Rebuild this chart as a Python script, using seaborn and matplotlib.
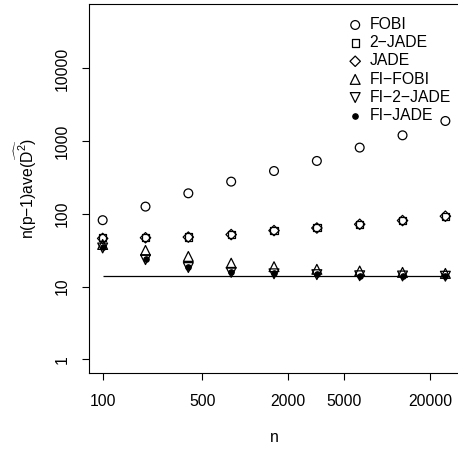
import matplotlib
matplotlib.use("Agg")
import matplotlib.pyplot as plt
import seaborn as sns
import pandas as pd

# taille d'échantillon et valeurs moyennes
n = [100, 200, 400, 800, 1600, 3200, 6400, 12800, 25600]
fobi = [82, 126, 192, 278, 389, 535, 817, 1205, 1897]
jade2 = [47, 47, 48, 52, 59, 65, 72, 82, 93]
jade = [46, 47, 48, 52, 59, 64, 72, 81, 93]
fi_fobi = [38, 31.5, 26, 21, 18.8, 17.3, 16.4, 15.7, 15.2]
fi_jade2 = [34, 23.5, 18.3, 15.7, 15.0, 14.6, 14.1, 14.0, 13.9]
fi_jade = [35, 24.3, 18.6, 15.9, 15.2, 14.8, 14.2, 14.1, 14.0]
borne = 13.8

methodes = ["FOBI", "2\u2212JADE", "JADE", "FI\u2212FOBI", "FI\u22122\u2212JADE", "FI\u2212JADE"]
series = [fobi, jade2, jade, fi_fobi, fi_jade2, fi_jade]
x_ticks = [100, 500, 2000, 5000, 20000]
y_ticks = [1, 10, 100, 1000, 10000]

# style de chaque marqueur (symboles R pch 1, 0, 5, 2, 6, 20)
styles = {
    methodes[0]: dict(marker="o", s=40, facecolor="none"),
    methodes[1]: dict(marker="s", s=28, facecolor="none"),
    methodes[2]: dict(marker="D", s=28, facecolor="none"),
    methodes[3]: dict(marker="^", s=50, facecolor="none"),
    methodes[4]: dict(marker="v", s=50, facecolor="none"),
    methodes[5]: dict(marker="o", s=15, facecolor="black"),
}

data = pd.DataFrame({
    "n": n * len(methodes),
    "val": [v for s in series for v in s],
    "methode": [m for m in methodes for _ in n],
})

sns.set_theme(style="white")
plt.rcParams["font.family"] = ["Liberation Sans", "DejaVu Sans"]
plt.rcParams["mathtext.fontset"] = "custom"
plt.rcParams["mathtext.rm"] = "Liberation Sans"
plt.rcParams["mathtext.it"] = "Liberation Sans:italic"
for cle in ["text.color", "axes.labelcolor", "xtick.color", "ytick.color"]:
    plt.rcParams[cle] = "black"

taille = 11.3

fig = plt.figure(figsize=(4.58, 4.49), dpi=100)
ax = fig.add_axes([89 / 458, 76 / 449, 370 / 458, 369 / 449])

handles = []
for m in methodes:
    st = styles[m]
    sns.scatterplot(data=data[data.methode == m], x="n", y="val", ax=ax,
                    marker=st["marker"], s=st["s"], facecolor=st["facecolor"],
                    edgecolor="black", linewidth=0.9, legend=False)
    handles.append(ax.collections[-1])

ax.hlines(borne, n[0], n[-1], color="black", linewidth=0.9)

ax.set_xscale("log")
ax.set_yscale("log")
ax.set_xlim(10 ** 1.904, 10 ** 4.504)
ax.set_ylim(10 ** -0.188, 10 ** 4.887)
ax.set_xticks(x_ticks)
ax.set_xticklabels([str(t) for t in x_ticks])
ax.set_yticks(y_ticks)
ax.set_yticklabels([str(t) for t in y_ticks], rotation=90, va="center")
ax.minorticks_off()
ax.tick_params(axis="both", direction="out", length=5, width=0.8, color="black",
               labelsize=taille, left=True, bottom=True)
ax.tick_params(axis="x", pad=10)
ax.tick_params(axis="y", pad=9)

for cote in ["left", "bottom", "top", "right"]:
    ax.spines[cote].set_color("black")
    ax.spines[cote].set_linewidth(0.8)

ax.set_xlabel("n", fontsize=taille, labelpad=15)
ax.set_ylabel(r"n(p$\mathregular{-}$1)ave($\widehat{\mathrm{D}^2}$)", fontsize=taille, labelpad=11)

ax.legend(handles, methodes, loc="upper right", bbox_to_anchor=(1.003, 0.99),
          frameon=False, fontsize=taille, labelspacing=0.2, handletextpad=0.3,
          handlelength=1.2, borderaxespad=0.2)

fig.savefig("out.png", dpi=100)
